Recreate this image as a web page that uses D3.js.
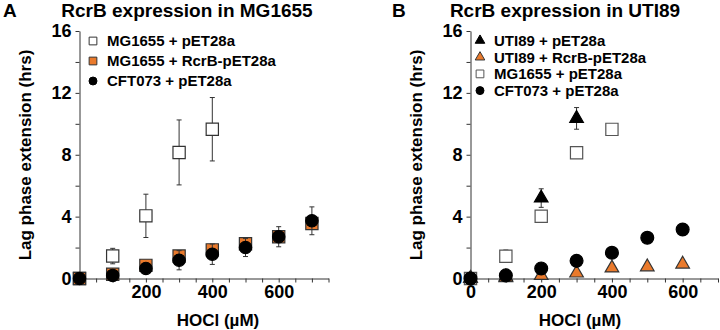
<!DOCTYPE html>
<html>
<head>
<meta charset="utf-8">
<script src="https://cdn.jsdelivr.net/npm/d3@7"></script>
<style>
  body { margin: 0; background: #fff; }
  svg text { font-family: "Liberation Sans", Arial, sans-serif; font-weight: bold; }
</style>
</head>
<body>
<svg id="chart" width="720" height="330"></svg>
<script>
// ---- data ----
const hoclA = [0, 100, 200, 300, 400, 500, 600, 700];
const mgA = [0, 1.45, 4.05, 8.15, 9.65];
const mgAErr = [0, 0.5, 1.4, 2.1, 2.05];
const rcrbA = [0, 0.28, 0.85, 1.45, 1.85, 2.25, 2.7, 3.55];
const cftA = [0, 0.2, 0.65, 1.18, 1.57, 2.0, 2.7, 3.73];
const cftAErr = [0, 0.1, 0.2, 0.62, 0.66, 0.58, 0.65, 0.9];

const hoclB = [0, 100, 200, 300, 400, 500, 600];
const utiB = [0, 0.1, 5.2, 10.35];
const utiBErr = [0, 0, 0.6, 0.7];
const rcrbB = [0, 0.05, 0.2, 0.35, 0.68, 0.75, 0.93];
const mgB = [0, 1.44, 4.03, 8.13, 9.64];
const mgBErr = [0, 0.4, 0, 0, 0];
const cftB = [0, 0.2, 0.65, 1.14, 1.66, 2.63, 3.17];

const yTicks = [0, 2, 4, 6, 8, 10, 12, 14, 16];
const ORANGE = "#ea7a2c";

const svg = d3.select("#chart");

function panel(opts) {
  const g = svg.append("g");
  const x = d3.scaleLinear().domain(opts.xDomain).range(opts.xRange);
  const y = d3.scaleLinear().domain([0, 16]).range([278.5, 31]);

  // axes
  const yAxis = d3.axisLeft(y).tickValues(yTicks)
    .tickFormat((d) => (d % 4 === 0 ? d : "")).tickSize(4).tickSizeOuter(0).tickPadding(4);
  const xAxis = d3.axisBottom(x).tickValues(d3.range(0, opts.xDomain[1] + 1, 50))
    .tickFormat((d) => (opts.xLabels.includes(d) ? d : "")).tickSize(4).tickSizeOuter(0).tickPadding(3);

  const ya = g.append("g").attr("transform", `translate(${opts.xRange[0]},0)`).call(yAxis);
  const xa = g.append("g").attr("transform", `translate(0,${y(0)})`).call(xAxis);
  [ya, xa].forEach((a) => {
    a.selectAll("path, line").attr("stroke", "#333").attr("stroke-width", 1);
    a.selectAll("text").attr("fill", "#000").style("font-size", "18px");
  });

  // titles
  g.append("text").attr("x", opts.letterX).attr("y", 17).style("font-size", "19px").text(opts.letter);
  g.append("text").attr("x", opts.titleX).attr("y", 17).attr("text-anchor", "middle")
    .style("font-size", "19px").text(opts.title);
  g.append("text").attr("transform", `translate(${opts.yTitleX},155) rotate(-90)`)
    .attr("text-anchor", "middle").style("font-size", "17px").text("Lag phase extension (hrs)");
  g.append("text").attr("x", opts.xTitleX).attr("y", 326).attr("text-anchor", "middle")
    .style("font-size", "17px").text("HOCl (µM)");

  // series
  opts.series.forEach((s) => {
    const pts = s.values.map((v, i) => ({ x: opts.hocl[i], y: v, e: s.err ? s.err[i] : 0 }));
    const eb = g.append("g").attr("stroke", "#333").attr("stroke-width", 1);
    pts.filter((p) => p.e > 0).forEach((p) => {
      eb.append("line").attr("x1", x(p.x)).attr("x2", x(p.x)).attr("y1", y(p.y - p.e)).attr("y2", y(p.y + p.e));
      [p.y - p.e, p.y + p.e].forEach((v) =>
        eb.append("line").attr("x1", x(p.x) - 2.5).attr("x2", x(p.x) + 2.5).attr("y1", y(v)).attr("y2", y(v)));
    });
    g.append("g").selectAll("path").data(pts).join("path")
      .attr("transform", (d) => `translate(${x(d.x)},${y(d.y)})`)
      .attr("d", d3.symbol(s.symbol, s.size))
      .attr("fill", s.fill).attr("stroke", s.stroke).attr("stroke-width", 1.2);
  });

  // legend
  const lg = g.append("g");
  opts.series.slice().sort((a, b) => a.legendOrder - b.legendOrder).forEach((s, i) => {
    const ly = opts.legendY + i * opts.legendStep;
    lg.append("path").attr("transform", `translate(${opts.legendX},${ly})`)
      .attr("d", d3.symbol(s.symbol, s.legendSize))
      .attr("fill", s.fill).attr("stroke", s.stroke).attr("stroke-width", 1);
    lg.append("text").attr("x", opts.legendX + 14).attr("y", ly).attr("dy", "0.36em")
      .style("font-size", "15px").text(s.name);
  });
}

panel({
  letter: "A", letterX: 3, title: "RcrB expression in MG1655", titleX: 187,
  yTitleX: 31, xTitleX: 218,
  xDomain: [0, 750], xRange: [79.5, 328.5], xLabels: [200, 400, 600], hocl: hoclA,
  legendX: 93, legendY: 41, legendStep: 20,
  series: [
    { name: "MG1655 + pET28a", values: mgA, err: mgAErr, symbol: d3.symbolSquare, size: 150, legendSize: 60,
      fill: "#fff", stroke: "#333", legendOrder: 0 },
    { name: "MG1655 + RcrB-pET28a", values: rcrbA, symbol: d3.symbolSquare, size: 150, legendSize: 60,
      fill: ORANGE, stroke: "#333", legendOrder: 1 },
    { name: "CFT073 + pET28a", values: cftA, err: cftAErr, symbol: d3.symbolCircle, size: 120, legendSize: 50,
      fill: "#000", stroke: "#000", legendOrder: 2 }
  ]
});

panel({
  letter: "B", letterX: 392, title: "RcrB expression in UTI89", titleX: 565,
  yTitleX: 422, xTitleX: 580,
  xDomain: [0, 700], xRange: [470.5, 718], xLabels: [0, 200, 400, 600], hocl: hoclB,
  legendX: 480, legendY: 40.5, legendStep: 16.7,
  series: [
    { name: "MG1655 + pET28a", values: mgB, err: mgBErr, symbol: d3.symbolSquare, size: 150, legendSize: 60,
      fill: "#fff", stroke: "#555", legendOrder: 2 },
    { name: "UTI89 + pET28a", values: utiB, err: utiBErr, symbol: d3.symbolTriangle, size: 80, legendSize: 40,
      fill: "#000", stroke: "#000", legendOrder: 0 },
    { name: "UTI89 + RcrB-pET28a", values: rcrbB, symbol: d3.symbolTriangle, size: 80, legendSize: 40,
      fill: ORANGE, stroke: "#333", legendOrder: 1 },
    { name: "CFT073 + pET28a", values: cftB, symbol: d3.symbolCircle, size: 130, legendSize: 50,
      fill: "#000", stroke: "#000", legendOrder: 3 }
  ]
});
</script>
</body>
</html>
